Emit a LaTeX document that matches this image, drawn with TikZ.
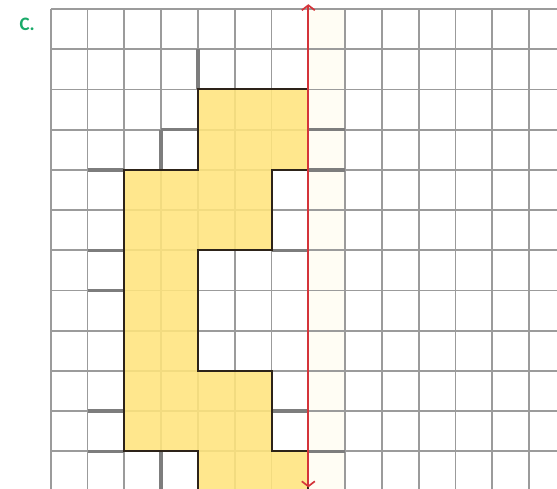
\documentclass[tikz,border=0pt]{standalone}
\usepackage{fontspec}
\setsansfont{Carlito}
\usetikzlibrary{arrows.meta}
\definecolor{gridgray}{RGB}{155,155,155}
\definecolor{hintgray}{RGB}{125,125,125}
\definecolor{shapefill}{RGB}{255,228,125}
\definecolor{shapeline}{RGB}{45,35,25}
\definecolor{axisred}{RGB}{212,52,58}
\definecolor{labelgreen}{RGB}{25,170,105}
\tikzset{
  gridline/.style={draw=gridgray, line width=1.8pt},
  hintline/.style={draw=hintgray, line width=3.4pt},
  outline/.style={draw=shapeline, line width=2pt, line join=miter},
}
\begin{document}
\begin{tikzpicture}[x=36.8pt, y=-40.2pt]
      \useasboundingbox (-1.378,-0.224) rectangle (13.758,11.94);
      \coordinate (top) at (7,-0.12);
      \coordinate (bot) at (7,11.9);

      % pale band right of the axis
      \fill[color={rgb,255:red,255;green,253;blue,244}] (7,0) rectangle (8,11.94);

      \begin{scope}
        \clip (-0.1,-0.1) rectangle (13.758,11.94);
        \foreach \c in {0,...,13} \draw[gridline] (\c,0) -- (\c,12);
        \foreach \r in {0,...,11} \draw[gridline] (0,\r) -- (13.8,\r);
      \end{scope}

      % the half figure
      \fill[shapefill, opacity=0.88]
      (4,2)--(7,2)--(7,4)--(6,4)--(6,6)--(4,6)--(4,9)--(6,9)--(6,11)
      --(7,11)--(7,11.94)--(4,11.94)--(4,11)--(2,11)--(2,4)--(4,4)--cycle;

      % thicker hint segments
      \draw[hintline] (4,1)--(4,2) (3,3)--(4,3) (3,3)--(3,4);
      \draw[hintline] (1,4)--(2,4) (1,6)--(2,6) (1,7)--(2,7)
      (1,10)--(2,10) (1,11)--(2,11) (3,11)--(3,11.94);
      \draw[hintline] (7,3)--(8,3) (7,4)--(8,4) (6,6)--(7,6)
      (6,10)--(7,10) (7,11)--(8,11);

      \draw[outline]
      (4,11.94)--(4,11)--(2,11)--(2,4)--(4,4)--(4,2)--(7,2)--(7,4)--(6,4)
      --(6,6)--(4,6)--(4,9)--(6,9)--(6,11)--(7,11)--(7,11.94);

      % axis of symmetry
      \draw[axisred, line width=1.7pt, {Straight Barb[length=5pt,width=13pt]}-{Straight Barb[length=5pt,width=13pt]}]
      (bot) -- (top);

      \node[labelgreen, font=\sffamily\bfseries\fontsize{19}{19}\selectfont] (lbl) at (-0.64,0.37) {C.};
    \end{tikzpicture}
\end{document}
